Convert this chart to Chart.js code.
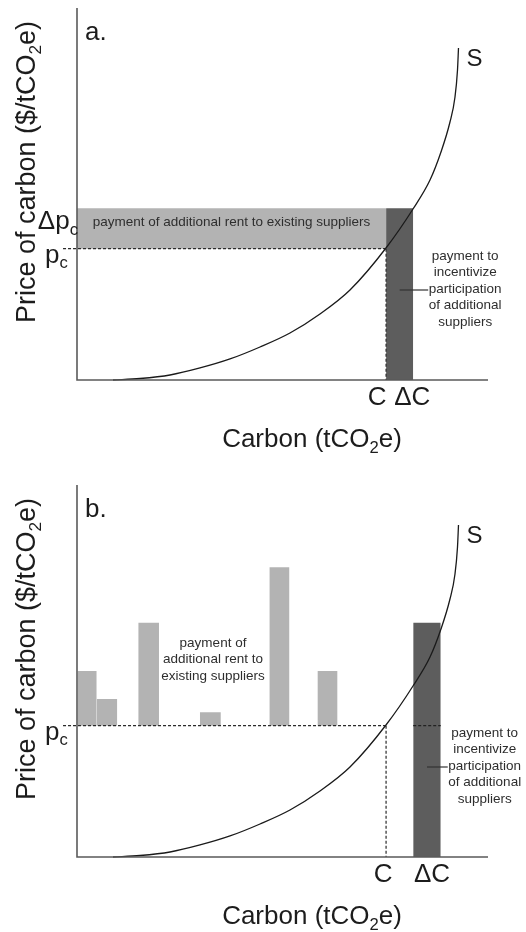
<!DOCTYPE html>
<html><head><meta charset="utf-8">
<script src="https://cdn.jsdelivr.net/npm/chart.js@4/dist/chart.umd.min.js"></script>
<style>
html,body{margin:0;padding:0;background:#fff;width:526px;height:932px;overflow:hidden}
canvas{position:absolute;left:0}
#ca{top:0}
#cb{top:460px}
</style></head><body>
<canvas id="ca" width="526" height="460"></canvas>
<canvas id="cb" width="526" height="472"></canvas>
<script>
// ---- data (axis units 0..100 on both axes) ----
const supplyX = [8.76, 15.33, 22.63, 29.93, 37.23, 44.53, 51.82, 59.12, 66.42, 75.18, 81.75, 85.89, 88.56, 90.75, 91.97, 92.58, 92.82];
const supplyY = [0, 0.40, 1.34, 3.23, 5.65, 8.87, 12.63, 17.74, 24.19, 35.48, 45.97, 53.76, 61.29, 69.35, 76.08, 83.33, 89.25];
const priceC = 35.3;          // p_c
const priceRaised = 46.2;     // p_c + Δp_c (panel a)
const quantityC = 75.2;       // C
const quantityDeltaA = 81.8;  // C + ΔC (panel a)
// panel b: additional supplier bar
const addBarStart = [81.8];
const addBarEnd = [88.5];
const addBarTop = [63.0];
// panel b: rent bars for existing suppliers
const rentBarStart = [0.1, 4.8, 14.9, 29.9, 46.8, 58.5];
const rentBarEnd   = [4.8, 9.8, 19.95, 35.0, 51.7, 63.4];
const rentBarTop   = [50.0, 42.5, 63.0, 38.9, 77.9, 50.0];
const pcLineStart = -3.4;

const FONT = '"Liberation Sans", Arial, Helvetica, sans-serif';
const LIGHT = '#b3b3b3', DARK = '#5d5d5d', INK = '#1c1c1c', SMALLINK = '#2e2e2e';

function f(size){ return size + 'px ' + FONT; }
function richWidth(ctx, runs, size){
  let w = 0;
  for (const [t, sub] of runs){ ctx.font = f(sub ? size*0.64 : size); w += ctx.measureText(t).width; }
  return w;
}
function drawRich(ctx, runs, x, y, size, align){
  const w = richWidth(ctx, runs, size);
  let cx = align === 'center' ? x - w/2 : (align === 'right' ? x - w : x);
  ctx.textAlign = 'left'; ctx.textBaseline = 'alphabetic';
  for (const [t, sub] of runs){
    ctx.font = f(sub ? size*0.64 : size);
    ctx.fillText(t, cx, sub ? y + size*0.22 : y);
    cx += ctx.measureText(t).width;
  }
}
function drawLines(ctx, lines, cx, y0, step, size){
  ctx.font = f(size); ctx.textAlign = 'center'; ctx.textBaseline = 'middle'; ctx.fillStyle = SMALLINK;
  lines.forEach((l, i) => ctx.fillText(l, cx, y0 + i*step));
}
function drawAxes(chart){
  const {ctx, chartArea: a} = chart;
  ctx.save();
  ctx.strokeStyle = '#5a5a5a'; ctx.lineWidth = 1.6;
  ctx.beginPath();
  ctx.moveTo(a.left, a.top); ctx.lineTo(a.left, a.bottom); ctx.lineTo(a.right, a.bottom);
  ctx.stroke();
  ctx.restore();
}
function drawTitles(chart){
  const {ctx, chartArea: a} = chart;
  ctx.save();
  ctx.fillStyle = INK;
  drawRich(ctx, [['Carbon (tCO',0],['2',1],['e)',0]], 312, a.bottom + 67, 26, 'center');
  ctx.translate(35, a.top + 164);
  ctx.rotate(-Math.PI/2);
  drawRich(ctx, [['Price of carbon ($/tCO',0],['2',1],['e)',0]], 0, 0, 27, 'center');
  ctx.restore();
}

function lineDs(points, opts){
  return Object.assign({data: points, pointRadius: 0, borderColor: '#2a2a2a', borderWidth: 1.2, fill: false, clip: false}, opts);
}
function supplyDs(){
  return lineDs(supplyX.map((x,i)=>({x, y: supplyY[i]})), {borderColor:'#1a1a1a', borderWidth:1.3, cubicInterpolationMode:'monotone', order:0});
}
function rectDs(x0, x1, top, base, color){
  return {data:[{x:x0,y:top},{x:x1,y:top}], fill:{value:base}, backgroundColor:color, borderColor:'transparent', borderWidth:0, pointRadius:0, order:3};
}
const dash = [3,2];

function baseOptions(padTop, padBottom){
  return {
    responsive:false, animation:false, devicePixelRatio:1,
    layout:{padding:{left:77, right:38, top:padTop, bottom:padBottom}},
    scales:{x:{type:'linear', min:0, max:100, display:false}, y:{min:0, max:100, display:false}},
    plugins:{legend:{display:false}, tooltip:{enabled:false}}
  };
}

// ---- panel a ----
const panelAText = {
  id:'panelAText',
  afterDraw(chart){
    const {ctx, chartArea:a, scales:{x, y}} = chart;
    drawAxes(chart);
    ctx.save();
    ctx.fillStyle = INK;
    ctx.font = f(26); ctx.textAlign='left'; ctx.textBaseline='alphabetic';
    ctx.fillText('a.', a.left + 8, a.top + 32);
    ctx.font = f(24);
    const sx = x.getPixelForValue(supplyX[supplyX.length-1]), sy = y.getPixelForValue(supplyY[supplyY.length-1]);
    ctx.fillText('S', sx + 8, sy + 18);
    drawRich(ctx, [['Δp',0],['c',1]], a.left + 1, y.getPixelForValue(priceRaised) + 21, 26, 'right');
    drawRich(ctx, [['p',0],['c',1]], a.left - 32, y.getPixelForValue(priceC) + 14, 26, 'left');
    ctx.font = f(26); ctx.textAlign='center';
    ctx.fillText('C', x.getPixelForValue(quantityC) - 9, a.bottom + 25);
    ctx.fillText('ΔC', x.getPixelForValue(quantityDeltaA) - 1, a.bottom + 25);
    // rent label
    ctx.font = f(13.5); ctx.textAlign='center'; ctx.textBaseline='middle'; ctx.fillStyle = SMALLINK;
    ctx.fillText('payment of additional rent to existing suppliers',
      (x.getPixelForValue(0) + x.getPixelForValue(quantityC))/2,
      (y.getPixelForValue(priceRaised) + y.getPixelForValue(priceC))/2 - 6);
    const barR = x.getPixelForValue(quantityDeltaA);
    drawLines(ctx, ['payment to','incentivize','participation','of additional','suppliers'], barR + 52, 256, 16.5, 13.5);
    ctx.strokeStyle = '#333'; ctx.lineWidth = 1.2;
    ctx.beginPath();
    ctx.moveTo(x.getPixelForValue((quantityC+quantityDeltaA)/2), 290);
    ctx.lineTo(barR + 15, 290);
    ctx.stroke();
    ctx.restore();
    drawTitles(chart);
  }
};

new Chart(document.getElementById('ca'), {
  type:'line',
  data:{datasets:[
    supplyDs(),
    lineDs([{x:pcLineStart,y:priceC},{x:quantityC,y:priceC}], {borderDash:dash, order:1}),
    lineDs([{x:quantityC,y:priceC},{x:quantityC,y:0}], {borderDash:dash, order:1}),
    rectDs(0, quantityC, priceRaised, priceC, LIGHT),
    rectDs(quantityC, quantityDeltaA, priceRaised, 0, DARK)
  ]},
  options: baseOptions(8, 80),
  plugins:[panelAText]
});

// ---- panel b ----
const panelBText = {
  id:'panelBText',
  afterDraw(chart){
    const {ctx, chartArea:a, scales:{x, y}} = chart;
    drawAxes(chart);
    ctx.save();
    ctx.fillStyle = INK;
    ctx.font = f(26); ctx.textAlign='left'; ctx.textBaseline='alphabetic';
    ctx.fillText('b.', a.left + 8, a.top + 32);
    ctx.font = f(24);
    const sx = x.getPixelForValue(supplyX[supplyX.length-1]), sy = y.getPixelForValue(supplyY[supplyY.length-1]);
    ctx.fillText('S', sx + 8, sy + 18);
    drawRich(ctx, [['p',0],['c',1]], a.left - 32, y.getPixelForValue(priceC) + 14, 26, 'left');
    ctx.font = f(26); ctx.textAlign='center';
    ctx.fillText('C', x.getPixelForValue(quantityC) - 3, a.bottom + 25);
    const barC = x.getPixelForValue((addBarStart[0]+addBarEnd[0])/2);
    ctx.fillText('ΔC', barC + 5, a.bottom + 25);
    drawLines(ctx, ['payment of','additional rent to','existing suppliers'], 213, a.top + 158, 16.5, 13.5);
    const barR = x.getPixelForValue(addBarEnd[0]);
    drawLines(ctx, ['payment to','incentivize','participation','of additional','suppliers'], barR + 44, a.top + 248, 16.5, 13.5);
    ctx.strokeStyle = '#333'; ctx.lineWidth = 1.2;
    ctx.beginPath();
    ctx.moveTo(barC, a.top + 282);
    ctx.lineTo(barR + 7, a.top + 282);
    ctx.stroke();
    ctx.restore();
    drawTitles(chart);
  }
};

const dsB = [
  supplyDs(),
  lineDs([{x:pcLineStart,y:priceC},{x:quantityC,y:priceC}], {borderDash:dash, order:1}),
  lineDs([{x:addBarStart[0],y:priceC},{x:addBarEnd[0],y:priceC}], {borderDash:dash, order:1, borderColor:'#222'}),
  lineDs([{x:quantityC,y:priceC},{x:quantityC,y:0}], {borderDash:dash, order:1}),
  rectDs(addBarStart[0], addBarEnd[0], addBarTop[0], 0, DARK)
];
rentBarStart.forEach((s,i)=>dsB.push(rectDs(s, rentBarEnd[i], rentBarTop[i], priceC, LIGHT)));

new Chart(document.getElementById('cb'), {
  type:'line',
  data:{datasets: dsB},
  options: baseOptions(25, 75),
  plugins:[panelBText]
});
</script>
</body></html>
